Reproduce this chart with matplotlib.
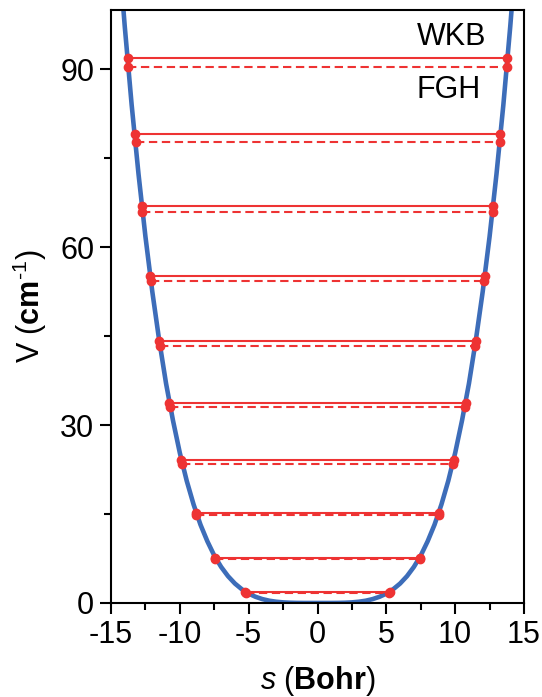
import matplotlib
matplotlib.use("Agg")
import matplotlib.pyplot as plt
from matplotlib.ticker import MultipleLocator

plt.rcParams['font.family'] = ['Liberation Sans', 'DejaVu Sans']
plt.rcParams['mathtext.fontset'] = 'custom'
plt.rcParams['mathtext.rm'] = 'Liberation Sans'
plt.rcParams['mathtext.it'] = 'Liberation Sans:italic'
plt.rcParams['mathtext.bf'] = 'Liberation Sans:bold'
plt.rcParams['axes.unicode_minus'] = False

# Potential curve
s_curve = [-14.5, -14.0, -13.5, -13.0, -12.5, -12.0, -11.5, -11.0, -10.5, -10.0,
           -9.5, -9.0, -8.5, -8.0, -7.5, -7.0, -6.5, -6.0, -5.5, -5.0, -4.5, -4.0,
           -3.5, -3.0, -2.5, -2.0, -1.5, -1.0, -0.5, 0.0,
           0.5, 1.0, 1.5, 2.0, 2.5, 3.0, 3.5, 4.0, 4.5, 5.0, 5.5, 6.0, 6.5, 7.0,
           7.5, 8.0, 8.5, 9.0, 9.5, 10.0, 10.5, 11.0, 11.5, 12.0, 12.5, 13.0,
           13.5, 14.0, 14.5]
V_curve = [111.8, 97.2, 84.0, 72.3, 61.8, 52.5, 44.3, 37.0, 30.8, 25.3,
           20.6, 16.6, 13.2, 10.4, 8.0, 6.08, 4.52, 3.28, 2.32, 1.58, 1.04, 0.65,
           0.38, 0.21, 0.10, 0.04, 0.01, 0.0, 0.0, 0.0,
           0.0, 0.0, 0.01, 0.04, 0.10, 0.21, 0.38, 0.65, 1.04, 1.58, 2.32, 3.28,
           4.52, 6.08, 8.0, 10.4, 13.2, 16.6, 20.6, 25.3, 30.8, 37.0, 44.3, 52.5,
           61.8, 72.3, 84.0, 97.2, 111.8]

# WKB levels (solid) and turning points
E_wkb = [1.9, 7.5, 15.2, 24.1, 33.7, 44.1, 55.2, 66.9, 79.0, 91.85]
s_wkb = [5.27, 7.45, 8.85, 9.92, 10.77, 11.5, 12.17, 12.77, 13.27, 13.8]

# FGH levels (dashed) and turning points
E_fgh = [1.75, 7.4, 14.8, 23.5, 33.1, 43.3, 54.25, 65.9, 77.8, 90.45]
s_fgh = [5.16, 7.42, 8.79, 9.86, 10.72, 11.45, 12.12, 12.72, 13.22, 13.75]

blue = '#3D6DB9'
red = '#EE3333'

fig = plt.figure(figsize=(5.42, 6.97), dpi=100)
ax = fig.add_axes([0.2048, 0.1349, 0.762, 0.8508])

ax.plot(s_curve, V_curve, color=blue, lw=3.3, zorder=2, solid_capstyle='round')

for E, s in zip(E_wkb, s_wkb):
    ax.plot([-s, s], [E, E], color=red, lw=1.5, zorder=3)
    ax.plot([-s, s], [E, E], ls='none', marker='o', ms=6, color=red, zorder=4)
for E, s in zip(E_fgh, s_fgh):
    ax.plot([-s, s], [E, E], color=red, lw=1.5, ls=(0, (4, 2.2)), zorder=3)
    ax.plot([-s, s], [E, E], ls='none', marker='o', ms=6, color=red, zorder=4)

ax.text(7.2, 95.5, 'WKB', fontsize=22, ha='left', va='center')
ax.text(7.2, 86.5, 'FGH', fontsize=22, ha='left', va='center')

ax.set_xlim(-15, 15)
ax.set_ylim(0, 100)
ax.xaxis.set_major_locator(MultipleLocator(5))
ax.xaxis.set_minor_locator(MultipleLocator(2.5))
ax.yaxis.set_major_locator(MultipleLocator(30))
ax.yaxis.set_minor_locator(MultipleLocator(15))
ax.tick_params(which='major', direction='out', length=8, width=1.5, labelsize=22, pad=4)
ax.tick_params(which='minor', direction='out', length=5, width=1.5)
for sp in ax.spines.values():
    sp.set_linewidth(1.5)

ax.set_xlabel(r'$\mathit{s}$ ($\mathbf{Bohr}$)', fontsize=22, labelpad=10)
ax.set_ylabel(r'V ($\mathbf{cm}^{\text{-}1}$)', fontsize=22, labelpad=8)

fig.savefig('out.png', dpi=100)
